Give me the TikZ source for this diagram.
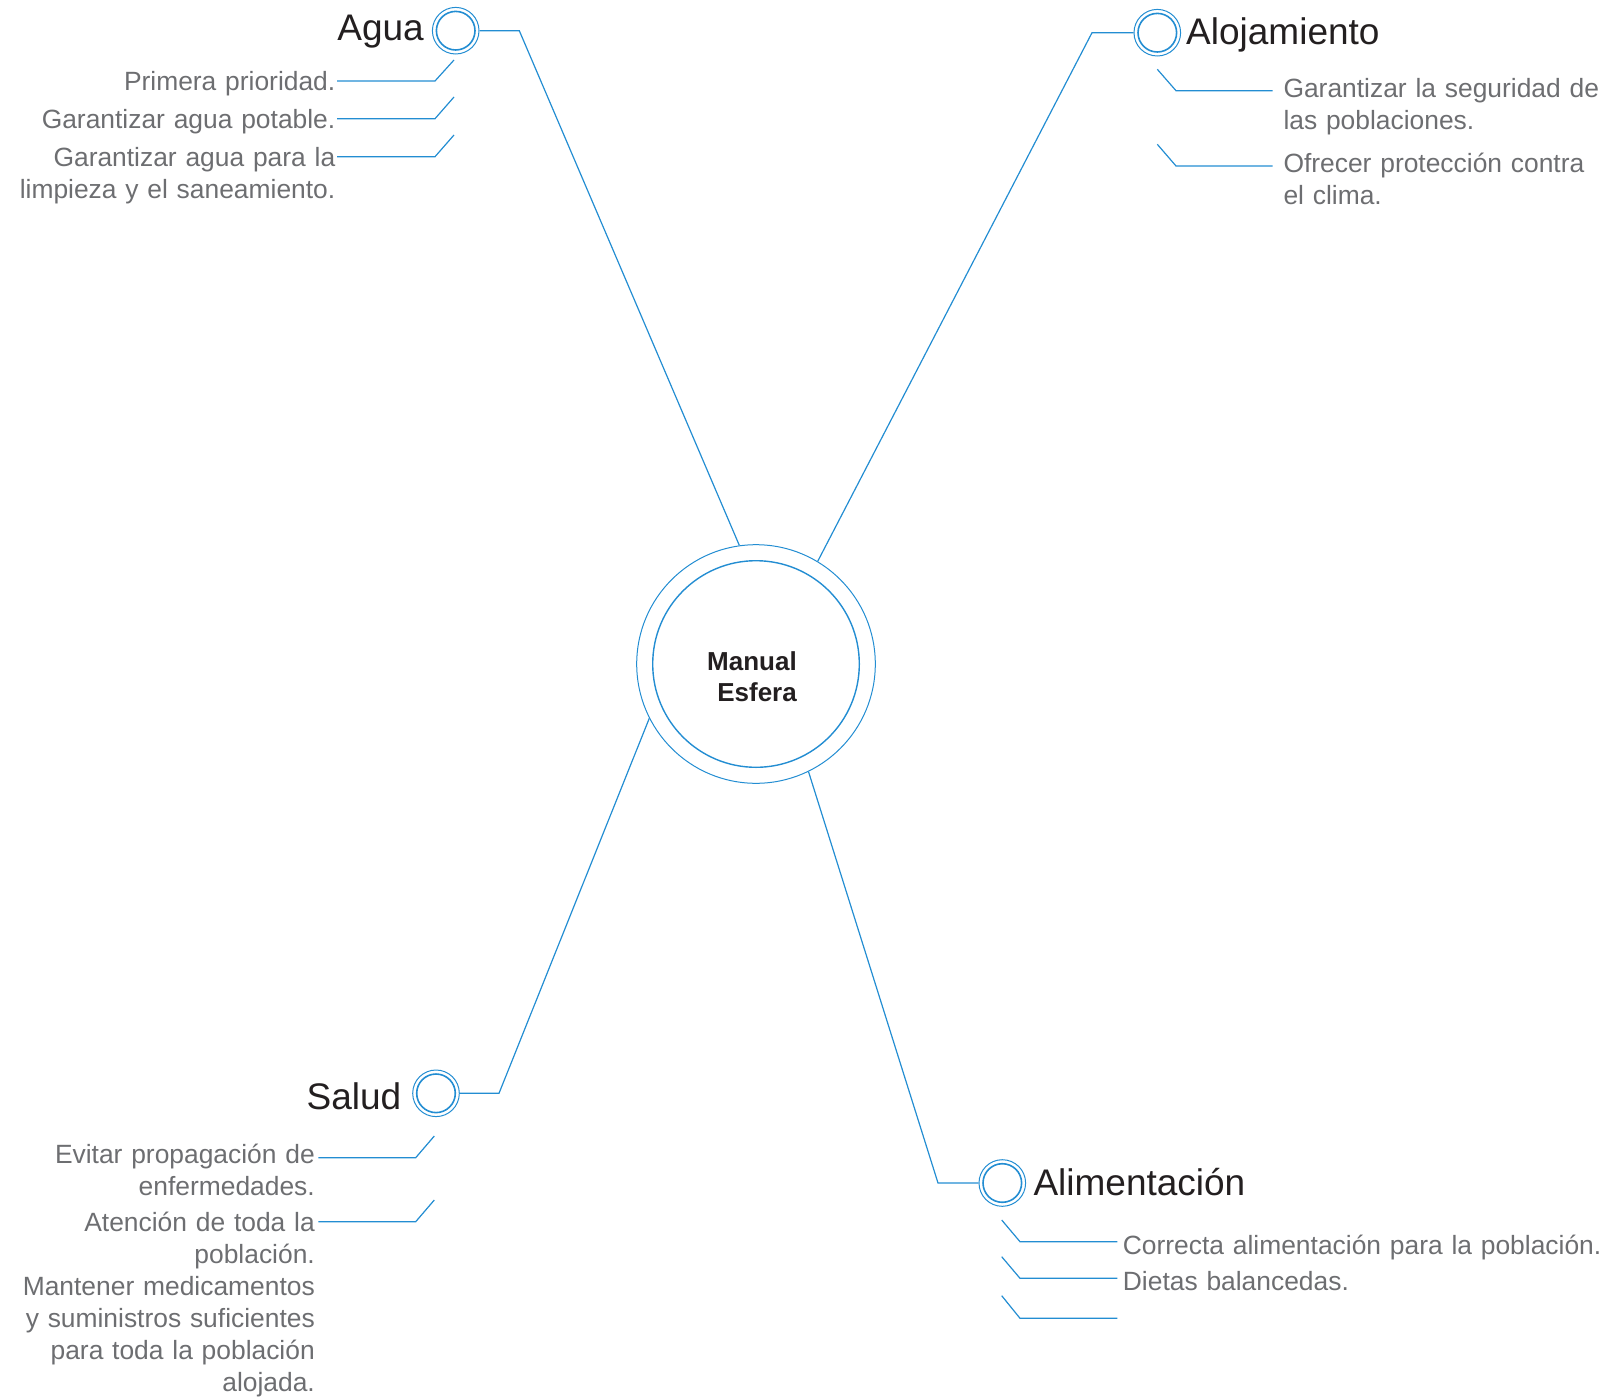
\documentclass[tikz,border=0pt]{standalone}
\usepackage{fontspec}
\setmainfont{Liberation Sans}
\definecolor{bl}{RGB}{35,141,210}
\definecolor{tgrey}{RGB}{109,110,113}
\definecolor{tdark}{RGB}{35,31,32}
\tikzset{
  ln/.style={draw=bl, line width=1.2pt},
  bigring/.style={circle, draw=bl, line width=1pt, minimum size=238.6pt, inner sep=0pt},
  ring/.style={circle, draw=bl, line width=1pt, minimum size=46.6pt, inner sep=0pt},
  inring/.style={draw=bl, line width=1.6pt},
  title/.style={inner sep=0pt, text=tdark, font=\fontsize{37}{44}\selectfont},
  itemR/.style={inner sep=0pt, text=tgrey, font=\fontsize{26.4}{32}\selectfont, text width=360pt, align=right, anchor=base east},
  itemL/.style={inner sep=0pt, text=tgrey, font=\fontsize{26.4}{32}\selectfont, text width=520pt, align=left, anchor=base west},
}
\begin{document}
\begin{tikzpicture}[x=1pt,y=-1pt]
\useasboundingbox (0,0) rectangle (1613,1397);
% centre
\node[bigring] (c) at (756,664) {};
\draw[inring, line width=1.4pt] (c.center) circle[radius=103.3];
\node[inner sep=0pt, text=tdark, font=\bfseries\fontsize{26}{31}\selectfont, text width=120pt, align=right, anchor=base east] (ctext) at (797,670.7) {Manual\\Esfera};

% Agua
\node[ring] (agua) at (455.7,30.7) {};
\draw[inring] (agua.center) circle[radius=19.3];
\node[title, anchor=base east] (aguat) at (424,41) {Agua};
\draw[ln] (agua.east) -- (519.3,30.7) coordinate (aguak) -- (c.98);
\coordinate (a1) at (454,60);
\coordinate (a2) at (454,97);
\coordinate (a3) at (454,135);
\draw[ln] (a1) -- ++(-19,21) -- ++(-98,0);
\draw[ln] (a2) -- ++(-19,21.7) -- ++(-98,0);
\draw[ln] (a3) -- ++(-19,21.7) -- ++(-98,0);
\node[itemR] (a1t) at (335.5,90) {Primera prioridad.};
\node[itemR] (a2t) at (335.5,128.5) {Garantizar agua potable.};
\node[itemR] (a3t) at (335.5,166) {Garantizar agua para la\\limpieza y el saneamiento.};

% Alojamiento
\node[ring] (aloj) at (1157.3,32.7) {};
\draw[inring] (aloj.center) circle[radius=19.3];
\node[title, anchor=base west] (alojt) at (1186,45) {Alojamiento};
\draw[ln] (aloj.west) -- (1092,32.7) coordinate (alojk) -- (c.59.6);
\coordinate (b1) at (1157.3,69.3);
\coordinate (b2) at (1157.3,144.3);
\draw[ln] (b1) -- ++(18.7,21.4) -- ++(96.7,0);
\draw[ln] (b2) -- ++(18.7,21.7) -- ++(96.7,0);
\node[itemL] (b1t) at (1283.3,97) {Garantizar la seguridad de\\las poblaciones.};
\node[itemL] (b2t) at (1283.3,172) {Ofrecer protección contra\\el clima.};

% Salud
\node[ring] (salud) at (436,1093.3) {};
\draw[inring] (salud.center) circle[radius=19.3];
\node[title, anchor=base east] (saludt) at (401.5,1109.5) {Salud};
\draw[ln] (salud.east) -- (499,1093.3) coordinate (saludk) -- (c.207.4);
\coordinate (s1) at (434.3,1136);
\coordinate (s2) at (434.3,1200);
\draw[ln] (s1) -- ++(-18.6,21.7) -- ++(-97.4,0);
\draw[ln] (s2) -- ++(-18.6,21.7) -- ++(-97.4,0);
\node[itemR] (s1t) at (315,1163) {Evitar propagación de\\enfermedades.};
\node[itemR] (s2t) at (315,1231) {Atención de toda la\\población.};
\node[itemR] (s3t) at (315,1295) {Mantener medicamentos\\y suministros suficientes\\para toda la población\\alojada.};

% Alimentacion
\node[ring] (alim) at (1002.3,1183) {};
\draw[inring] (alim.center) circle[radius=19.3];
\node[title, anchor=base west] (alimt) at (1033.3,1195) {Alimentación};
\draw[ln] (alim.west) -- (938,1183) coordinate (alimk) -- (c.296.3);
\coordinate (f1) at (1001.7,1220);
\coordinate (f2) at (1001.7,1256.7);
\coordinate (f3) at (1001.7,1295.7);
\draw[ln] (f1) -- ++(18.3,21.7) -- ++(97.3,0);
\draw[ln] (f2) -- ++(18.3,21.6) -- ++(97.3,0);
\draw[ln] (f3) -- ++(18.3,22.6) -- ++(97.3,0);
\node[itemL] (f1t) at (1122.7,1254.5) {Correcta alimentación para la población.};
\node[itemL] (f2t) at (1122.7,1290.5) {Dietas balancedas.};
\end{tikzpicture}
\end{document}
